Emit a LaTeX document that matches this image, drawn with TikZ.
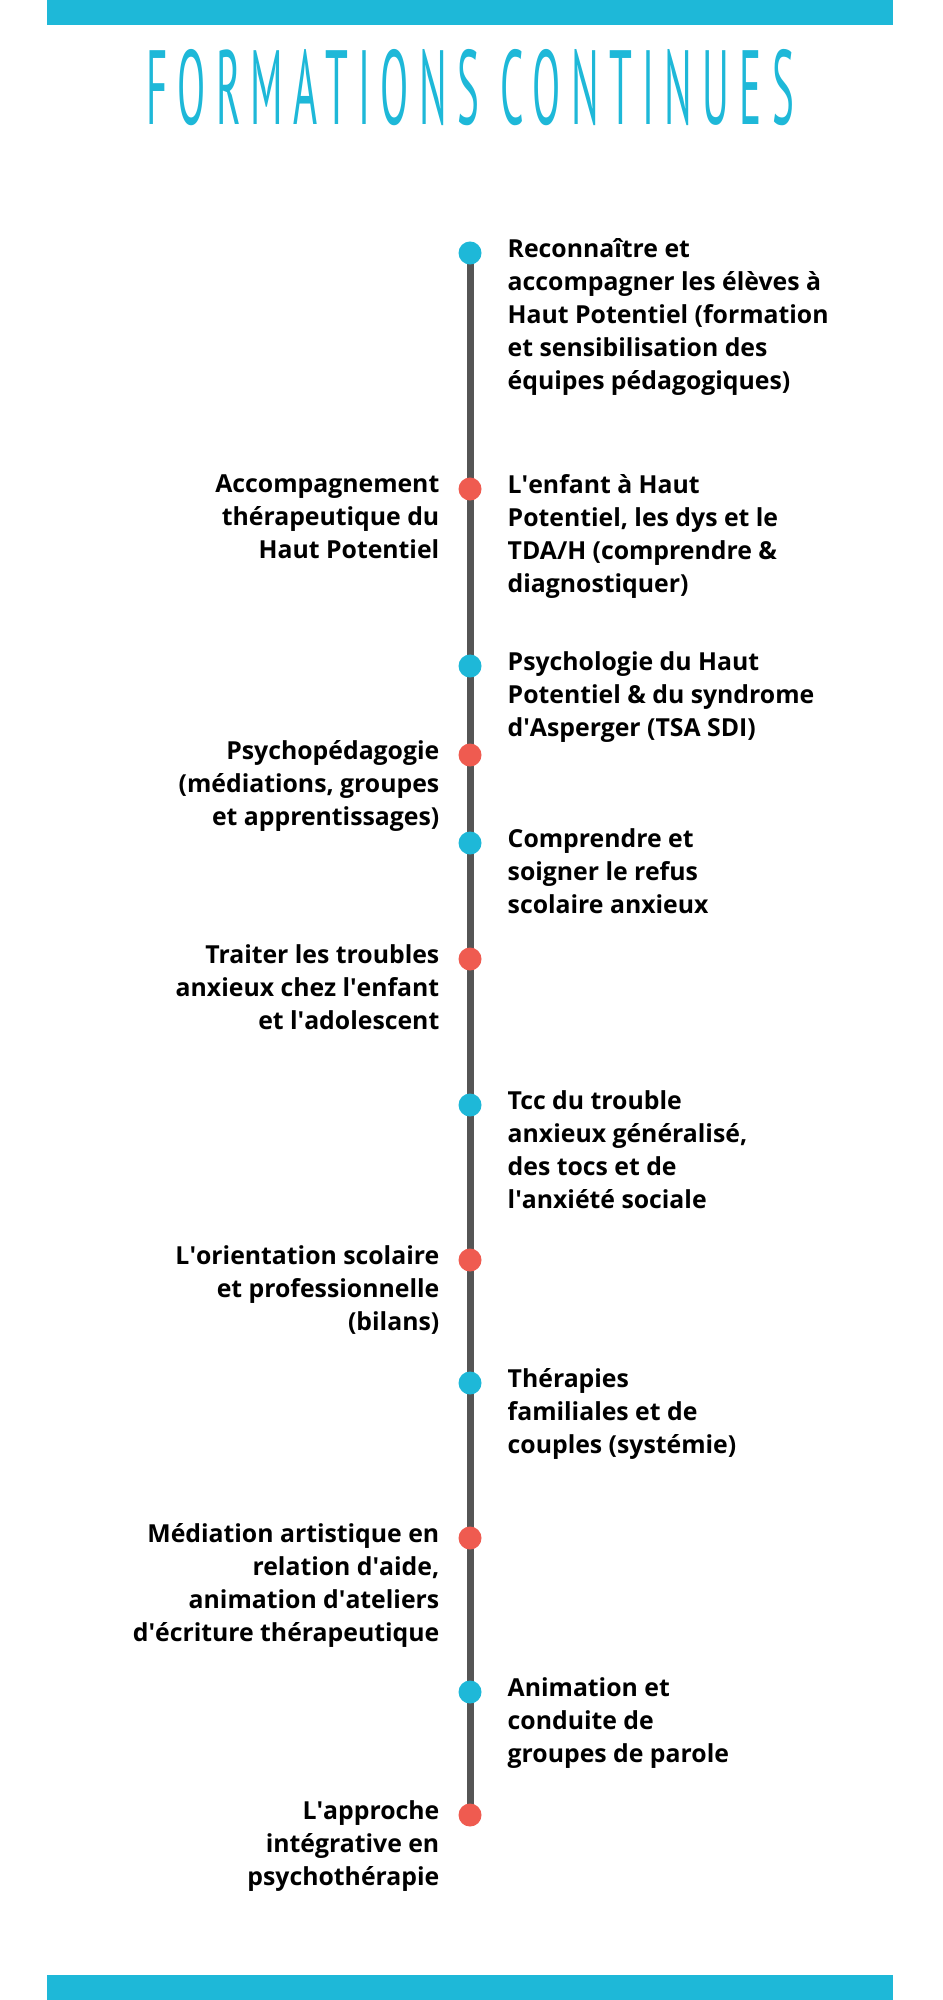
\documentclass[tikz,border=0pt]{standalone}
\usepackage{fontspec}
\setmainfont{Open Sans}
\newfontfamily\titlefont[LetterSpace=25]{PT Sans}
\definecolor{cyanbar}{HTML}{1EB8D8}
\definecolor{dotred}{HTML}{EF5B50}
\definecolor{linegrey}{HTML}{555555}
\newcommand\ap{\textquotesingle}
\begin{document}
\begin{tikzpicture}[x=0.01cm, y=-0.01cm,
    bar/.style={fill=cyanbar, draw=none},
    dotc/.style={circle, fill=cyanbar, minimum size=0.23cm, inner sep=0},
    dotr/.style={circle, fill=dotred, minimum size=0.23cm, inner sep=0},
    rtext/.style={anchor=north west, inner sep=0, align=left, font=\bfseries\fontsize{7.05}{9.4}\selectfont},
    ltext/.style={anchor=north east, inner sep=0, align=right, font=\bfseries\fontsize{7.05}{9.4}\selectfont}]
    \useasboundingbox (0,0) rectangle (943,2000);
    \fill[bar] (47,0) rectangle (893,25);
    \fill[bar] (47,1975) rectangle (893,2000);
    \node[text=cyanbar, font=\titlefont\fontsize{30}{30}\selectfont] (title) at (470,88) {\scalebox{0.39}[1]{FORMATIONS CONTINUES}};

    % timeline
    \coordinate (top) at (470,253);
    \coordinate (bot) at (470,1815);
    \draw[linegrey, line width=0.07cm] (top) -- (bot);

    % right items
    \node[dotc] (c1) at (470,253) {};
    \node[dotc] (c2) at (470,666) {};
    \node[dotc] (c3) at (470,843) {};
    \node[dotc] (c4) at (470,1105) {};
    \node[dotc] (c5) at (470,1383) {};
    \node[dotc] (c6) at (470,1692) {};
    \node[rtext] at (507,238) {Reconnaître et\\accompagner les élèves à\\Haut Potentiel (formation\\et sensibilisation des\\équipes pédagogiques)};
    \node[rtext] at (507,474) {L\ap enfant à Haut\\Potentiel, les dys et le\\TDA/H (comprendre \&\\diagnostiquer)};
    \node[rtext] at (507,651) {Psychologie du Haut\\Potentiel \& du syndrome\\d\ap Asperger (TSA SDI)};
    \node[rtext] at (507,828) {Comprendre et\\soigner le refus\\scolaire anxieux};
    \node[rtext] at (507,1090) {Tcc du trouble\\anxieux généralisé,\\des tocs et de\\l\ap anxiété sociale};
    \node[rtext] at (507,1368) {Thérapies\\familiales et de\\couples (systémie)};
    \node[rtext] at (507,1677) {Animation et\\conduite de\\groupes de parole};

    % left items
    \node[dotr] (r1) at (470,489) {};
    \node[dotr] (r2) at (470,755) {};
    \node[dotr] (r3) at (470,959) {};
    \node[dotr] (r4) at (470,1260) {};
    \node[dotr] (r5) at (470,1538) {};
    \node[dotr] (r6) at (470,1815) {};
    \node[ltext] at (440,474) {Accompagnement\\thérapeutique du\\Haut Potentiel};
    \node[ltext] at (440,740) {Psychopédagogie\\(médiations, groupes\\et apprentissages)};
    \node[ltext] at (440,944) {Traiter les troubles\\anxieux chez l\ap enfant\\et l\ap adolescent};
    \node[ltext] at (440,1245) {L\ap orientation scolaire\\et professionnelle\\(bilans)};
    \node[ltext] at (440,1523) {Médiation artistique en\\relation d\ap aide,\\animation d\ap ateliers\\d\ap écriture thérapeutique};
    \node[ltext] at (440,1800) {L\ap approche\\intégrative en\\psychothérapie};
\end{tikzpicture}
\end{document}
